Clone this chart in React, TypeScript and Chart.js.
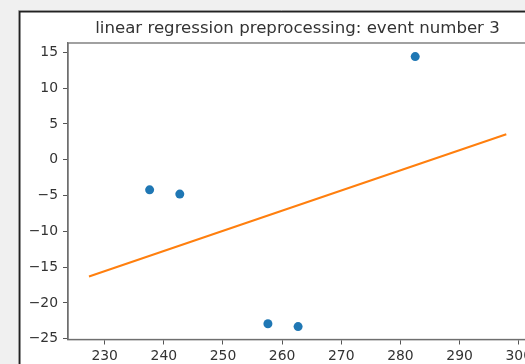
import React, { useEffect, useRef } from "react";
import { Chart, registerables } from "chart.js";

Chart.register(...registerables);

const TITLE = "linear regression preprocessing: event number 3";
const pointX = [237.6, 242.7, 257.6, 262.7, 282.5];
const pointY = [-4.2, -4.8, -22.9, -23.3, 14.4];
const lineX = [227.35, 297.9];
const lineY = [-16.3, 3.55];
const xTicks = [230, 240, 250, 260, 270, 280, 290, 300];
const yTicks = [15, 10, 5, 0, -5, -10, -15, -20, -25];

const CW = 545;
const CH = 364;
const FONT = "'DejaVu Sans', sans-serif";

const fmt = (v: number) => (v < 0 ? "\u2212" + Math.abs(v) : String(v));

const decor = {
  id: "decor",
  beforeDraw(chart: any) {
    const ctx = chart.ctx;
    ctx.save();
    ctx.fillStyle = "#f0f0f0";
    ctx.fillRect(0, 0, CW, CH);
    ctx.fillStyle = "#ffffff";
    ctx.fillRect(20, 12, CW, CH);
    ctx.strokeStyle = "#9a9a9a";
    ctx.lineWidth = 1;
    ctx.beginPath();
    ctx.moveTo(18.5, CH);
    ctx.lineTo(18.5, 10.5);
    ctx.lineTo(CW, 10.5);
    ctx.stroke();
    ctx.strokeStyle = "#222";
    ctx.lineWidth = 1.5;
    ctx.beginPath();
    ctx.moveTo(19.75, CH);
    ctx.lineTo(19.75, 11.75);
    ctx.lineTo(CW, 11.75);
    ctx.stroke();
    ctx.restore();
  },
  afterDraw(chart: any) {
    const ctx = chart.ctx;
    const a = chart.chartArea;
    ctx.save();
    ctx.strokeStyle = "#6f6f6f";
    ctx.lineWidth = 1.3;
    ctx.strokeRect(a.left, a.top, a.right - a.left, a.bottom - a.top);
    ctx.fillStyle = "#333333";
    ctx.font = `16.6px ${FONT}`;
    ctx.textAlign = "center";
    ctx.textBaseline = "middle";
    ctx.fillText(TITLE, (a.left + a.right) / 2, 29);
    ctx.restore();
  },
};

export default function App() {
  const ref = useRef<HTMLCanvasElement>(null);
  useEffect(() => {
    if (!ref.current) return;
    const chart = new Chart(ref.current, {
      type: "scatter",
      data: {
        datasets: [
          {
            type: "scatter",
            data: pointX.map((x, i) => ({ x, y: pointY[i] })),
            backgroundColor: "#1f77b4",
            borderColor: "#1f77b4",
            pointRadius: 4.5,
            borderWidth: 0,
          },
          {
            type: "line",
            data: lineX.map((x, i) => ({ x, y: lineY[i] })),
            borderColor: "#ff7f0e",
            borderWidth: 2,
            pointRadius: 0,
            showLine: true,
            fill: false,
          },
        ],
      },
      options: {
        responsive: false,
        animation: false,
        devicePixelRatio: 1,
        layout: { padding: { left: 0, top: 43, right: CW - 527, bottom: 0 } },
        plugins: { legend: { display: false }, tooltip: { enabled: false }, title: { display: false } },
        scales: {
          x: {
            type: "linear",
            min: 223.8,
            max: 301.4,
            afterFit: (s: any) => {
              s.height = CH - 339.5;
            },
            afterBuildTicks: (s: any) => {
              s.ticks = xTicks.map((v) => ({ value: v }));
            },
            border: { display: true, color: "#6f6f6f", width: 1.3 },
            grid: { display: true, drawOnChartArea: false, drawTicks: true, tickLength: 5, tickColor: "#555", tickWidth: 1 },
            ticks: {
              color: "#333333",
              font: { family: FONT, size: 13.9 },
              padding: 4,
              maxRotation: 0,
              autoSkip: false,
              callback: (v: any) => fmt(Number(v)),
            },
          },
          y: {
            type: "linear",
            min: -25.1,
            max: 16.3,
            afterFit: (s: any) => {
              s.width = 68;
            },
            afterBuildTicks: (s: any) => {
              s.ticks = yTicks.map((v) => ({ value: v }));
            },
            border: { display: true, color: "#6f6f6f", width: 1.3 },
            grid: { display: true, drawOnChartArea: false, drawTicks: true, tickLength: 5, tickColor: "#555", tickWidth: 1 },
            ticks: {
              color: "#333333",
              font: { family: FONT, size: 13.9 },
              padding: 5,
              autoSkip: false,
              callback: (v: any) => fmt(Number(v)),
            },
          },
        },
      },
      plugins: [decor],
    } as any);
    return () => chart.destroy();
  }, []);
  return (
    <div style={{ position: "fixed", left: 0, top: 0, width: 525, height: 364, overflow: "hidden" }}>
      <canvas ref={ref} width={CW} height={CH} style={{ display: "block" }} />
    </div>
  );
}
